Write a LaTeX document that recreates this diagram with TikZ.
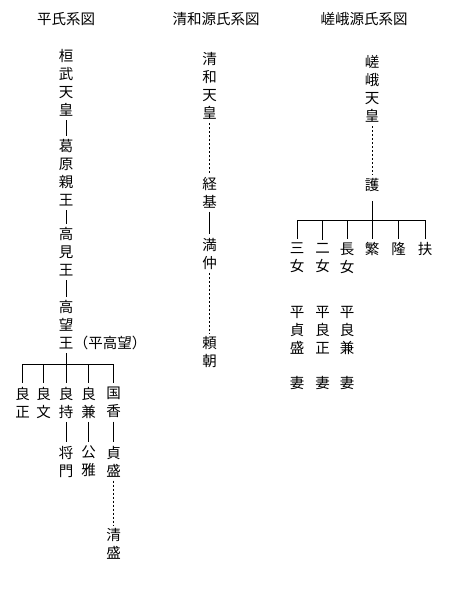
\documentclass[tikz,border=0pt]{standalone}
\usepackage{fontspec}
\setmainfont{Noto Sans CJK JP}
\usetikzlibrary{positioning}

\begin{document}
\begin{tikzpicture}[x=1pt, y=-1pt,
  person/.style={align=center, inner xsep=0pt, inner ysep=3.5pt, font=\fontsize{14.5pt}{18pt}\selectfont},
  heading/.style={inner sep=0pt, font=\fontsize{14.5pt}{18pt}\selectfont},
  link/.style={line width=1pt},
  gap/.style={line width=1pt, dash pattern=on 2pt off 2pt}
]
\useasboundingbox (0,0) rectangle (452,591);

% Heishi
\node[heading] (heishi) at (66,19) {平氏系図};
\node[person] (kanmu) at (66,83) {桓\\武\\天\\皇};
\node[person] (kazurahara) at (66,173) {葛\\原\\親\\王};
\node[person] (takami) at (66,252) {高\\見\\王};
\node[person] (takamochi) at (66,325) {高\\望\\王};
\node[heading] (taira) at (110,343) {（平高望）};
\coordinate (heibar) at (66,364);
\node[person] (yoshimasa) at (22.5,402.5) {良\\正};
\node[person] (yoshifumi) at (43.5,402.5) {良\\文};
\node[person] (yoshimochi) at (66,402.5) {良\\持};
\node[person] (yoshikane) at (88.5,402.5) {良\\兼};
\node[person] (kunika) at (113.5,402.5) {国\\香};
\node[person] (masakado) at (66,461.5) {将\\門};
\node[person] (kinmasa) at (88.5,461.5) {公\\雅};
\node[person] (sadamori) at (113.5,461.5) {貞\\盛};
\node[person] (kiyomori) at (113.5,544) {清\\盛};
\draw[link] (kanmu) -- (kazurahara);
\draw[link] (kazurahara) -- (takami);
\draw[link] (takami) -- (takamochi);
\draw[link] (takamochi) -- (heibar);
\foreach \c in {yoshimasa,yoshifumi,yoshimochi,yoshikane,kunika}
  \draw[link] (heibar) -| (\c.north);
\draw[link] (yoshimochi) -- (masakado);
\draw[link] (yoshikane) -- (kinmasa);
\draw[link] (kunika) -- (sadamori);
\draw[gap] (sadamori) -- (kiyomori);

% Seiwa Genji
\node[heading] (seiwagenji) at (216,19) {清和源氏系図};
\node[person] (seiwa) at (209.5,86) {清\\和\\天\\皇};
\node[person] (tsunemoto) at (209.5,192.5) {経\\基};
\node[person] (mitsunaka) at (209.5,253.5) {満\\仲};
\node[person] (yoritomo) at (209.5,352.5) {頼\\朝};
\draw[gap] (seiwa) -- (tsunemoto);
\draw[link] (tsunemoto) -- (mitsunaka);
\draw[gap] (mitsunaka) -- (yoritomo);

% Saga Genji
\node[heading] (sagagenji) at (364,19) {嵯峨源氏系図};
\node[person] (saga) at (372,89) {嵯\\峨\\天\\皇};
\node[person] (mamoru) at (372,185) {護};
\coordinate (sagabar) at (372,220);
\node[person] (sanjo) at (297,258) {三\\女};
\node[person] (nijo) at (322.5,258) {二\\女};
\node[person] (chojo) at (347,258) {長\\女};
\node[person] (shigeru) at (372,249) {繁};
\node[person] (takashi) at (398.5,249) {隆};
\node[person] (tasuku) at (425,249) {扶};
\node[person] (tsuma1) at (297,348) {平\\貞\\盛\\[17pt]妻};
\node[person] (tsuma2) at (322.5,348) {平\\良\\正\\[17pt]妻};
\node[person] (tsuma3) at (347,348) {平\\良\\兼\\[17pt]妻};
\draw[gap] (saga) -- (mamoru);
\draw[link, shorten <=6pt] (mamoru) -- (sagabar);
\foreach \c in {sanjo,nijo,chojo,shigeru,takashi,tasuku}
  \draw[link] (sagabar) -| (\c.north);
\end{tikzpicture}
\end{document}
